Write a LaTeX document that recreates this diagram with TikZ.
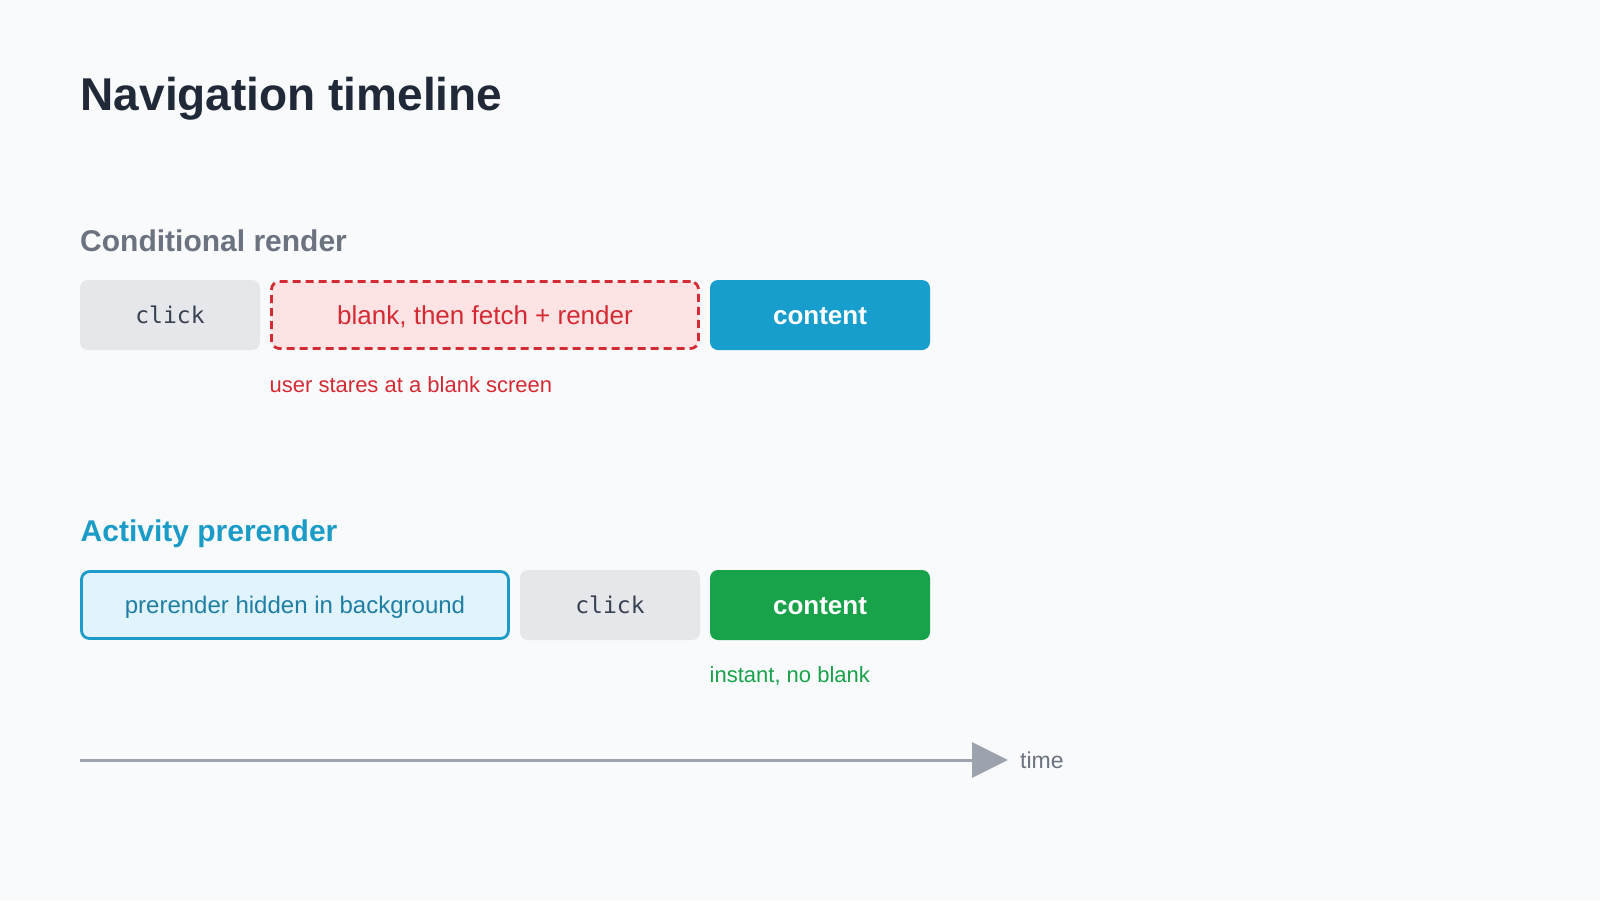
\documentclass[tikz,border=0pt]{standalone}
\usepackage{fontspec}
\setmainfont{Liberation Sans}
\setmonofont{DejaVu Sans Mono}
\usetikzlibrary{arrows.meta}
\definecolor{bgcol}{HTML}{F9FAFB}
\definecolor{inkcol}{HTML}{1F2937}
\definecolor{graycol}{HTML}{6B7280}
\definecolor{clickfill}{HTML}{E5E7EB}
\definecolor{clicktext}{HTML}{374151}
\definecolor{redcol}{HTML}{D42A33}
\definecolor{redfill}{HTML}{FDE3E3}
\definecolor{bluecol}{HTML}{179ECC}
\definecolor{tealcol}{HTML}{1A9BC8}
\definecolor{bluefill}{HTML}{E1F3FC}
\definecolor{bluetext}{HTML}{1E7FA3}
\definecolor{greencol}{HTML}{18A34A}
\definecolor{axiscol}{HTML}{9CA3AF}
\newcommand{\px}[1]{\fontsize{#1}{#1}\selectfont}
\begin{document}
\begin{tikzpicture}[x=1pt,y=-1pt,
    box/.style={rounded corners=8pt, minimum height=70pt, inner sep=0pt,
      text depth=0pt},
    clickbox/.style={box, fill=clickfill, text=clicktext, text height=16pt,
      minimum width=180pt, font=\ttfamily\px{23}},
    blankbox/.style={box, fill=redfill, draw=redcol, line width=2.8pt,
      dash pattern=on 8pt off 5pt, text=redcol, minimum width=427pt,
      minimum height=67pt, text height=18pt, font=\px{26}},
    contentbox/.style={box, text=white, minimum width=220pt, text height=18pt,
      font=\bfseries\px{26}},
    prebox/.style={box, fill=bluefill, draw=tealcol, line width=2.8pt,
      text=bluetext, minimum width=427pt, minimum height=67pt,
      text height=17pt, font=\px{24}},
    heading/.style={anchor=base west, inner sep=0pt, font=\bfseries\px{30}},
    note/.style={anchor=base west, inner sep=0pt, font=\px{22}}]
  \fill[bgcol] (0,0) rectangle (1600,900);
  \useasboundingbox (0,0) rectangle (1600,900);

  \node[anchor=base west, inner sep=0pt, font=\bfseries\px{46}, text=inkcol]
    (title) at (80.5,110.7) {Navigation timeline};

  % conditional render
  \node[heading, text=graycol] (condhead) at (80,251) {Conditional render};
  \node[clickbox] (click1) at (170,315) {click};
  \node[blankbox] (blank) at (485,315) {blank, then fetch + render};
  \node[contentbox, fill=bluecol] (content1) at (820,315) {content};
  \node[note, text=redcol] (stare) at (269.5,392.5) {user stares at a blank screen};

  % activity prerender
  \node[heading, text=tealcol] (acthead) at (80.5,541) {Activity prerender};
  \node[prebox] (pre) at (295,605) {prerender hidden in background};
  \node[clickbox] (click2) at (610,605) {click};
  \node[contentbox, fill=greencol] (content2) at (820,605) {content};
  \node[note, text=greencol] (instant) at (709.5,682.5) {instant, no blank};

  % time axis
  \coordinate (t0) at (80,760);
  \coordinate (t1) at (1008,760);
  \draw[axiscol, line width=3pt, -{Triangle[length=36pt, width=35pt]}] (t0) -- (t1);
  \node[note, text=graycol, font=\px{23}] (time) at (1020,768) {time};
\end{tikzpicture}
\end{document}
